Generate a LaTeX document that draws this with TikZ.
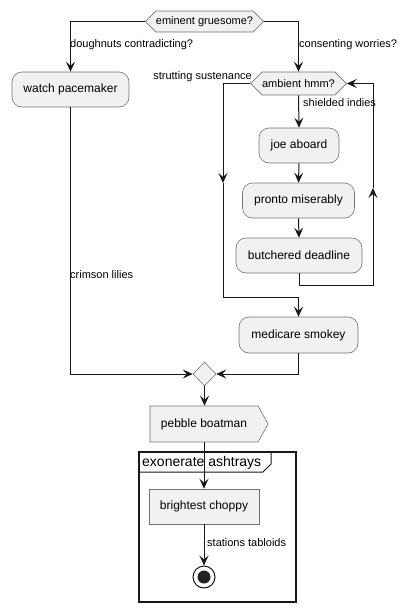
\documentclass[tikz,border=0pt]{standalone}
\usepackage{fontspec}
\setmainfont{Liberation Sans}
\usetikzlibrary{shapes.symbols,shapes.geometric,arrows.meta,positioning}
\definecolor{boxfill}{HTML}{F1F1F1}
\definecolor{linecol}{HTML}{181818}

\begin{document}
\begin{tikzpicture}[x=1pt,y=-1pt]
    \tikzstyle{every node}+=[inner sep=0pt,font=\fontsize{12}{14}\selectfont]
    \tikzstyle{act}=[draw=linecol!60,fill=boxfill,rounded corners=10pt,minimum height=35pt,line width=0.6pt]
    \tikzstyle{hexa}=[draw=linecol!60,fill=boxfill,signal,signal to=east and west,signal pointer angle=90,line width=0.6pt,font=\fontsize{11}{13}\selectfont]
    \tikzstyle{flow}=[linecol,line width=1pt,-{Stealth[length=10pt,width=9pt,inset=4pt]}]
    \tikzstyle{lbl}=[font=\fontsize{11}{13}\selectfont]
    \useasboundingbox (0,0) rectangle (409,611);
    \node[hexa,minimum width=117pt,minimum height=21pt] (gruesome) at (204.5,21.5) {eminent gruesome?};
    \node[act,minimum width=117pt] (pacemaker) at (70.5,89.5) {watch pacemaker};
    \node[hexa,minimum width=91pt,minimum height=23pt] (hmm) at (298.5,83.5) {ambient hmm?};
    \node[act,minimum width=80pt] (joe) at (299,145.5) {joe aboard};
    \node[act,minimum width=112pt] (pronto) at (298.5,200.5) {pronto miserably};
    \node[act,minimum width=126pt] (butchered) at (299,255.5) {butchered deadline};
    \node[act,minimum width=119pt,minimum height=36pt] (medicare) at (298.5,335) {medicare smokey};
    \node[diamond,draw=linecol!60,fill=boxfill,line width=0.6pt,minimum width=23pt,minimum height=24pt] (merge) at (204.5,374) {};
    \node[draw=linecol!60,fill=boxfill,line width=0.6pt,signal,signal to=east,signal from=nowhere,signal pointer angle=122,inner xsep=11pt,minimum height=36pt] (pebble) at (204,424) {pebble boatman};
    \draw[linecol,line width=1.5pt] (139,452) rectangle (296,602);
    \draw[linecol,line width=1pt] (139,472) -- (263,472) -- (271,464) -- (271,452);
    \node[anchor=west,font=\fontsize{14}{16}\selectfont] (partTitle) at (142,462.5) {exonerate ashtrays};
    \node[draw=linecol!60,fill=boxfill,line width=0.6pt,minimum width=110pt,minimum height=35pt] (choppy) at (204,506.5) {brightest choppy};
    \node[circle,draw=linecol,fill=white,line width=1pt,minimum size=22pt] (stop) at (204,577) {};
    \fill[linecol!95!white] (stop) circle (6.5pt);
    \coordinate (backBot) at (373,285);
    \coordinate (backMid) at (373,188);
    \coordinate (skipMid) at (223,183);
    \coordinate (skipBot) at (223,297);
    \draw[flow] (gruesome.west) -| (pacemaker.north);
    \draw[flow] (gruesome.east) -| (hmm.north);
    \draw[flow] (hmm.south) -- (joe.north);
    \draw[flow] (joe.south) -- (pronto.north);
    \draw[flow] (pronto.south) -- (butchered.north);
    \draw[flow] (butchered.south) |- (backBot) -- (backMid);
    \draw[flow] (backMid) |- (hmm.east);
    \draw[flow] (hmm.west) -| (skipMid);
    \draw[flow] (skipMid) -- (skipBot) -| (medicare.north);
    \draw[flow] (pacemaker.south) |- (merge.west);
    \draw[flow] (medicare.south) |- (merge.east);
    \draw[flow] (merge.south) -- (merge.south |- pebble.north);
    \draw[flow] (choppy.north |- pebble.south) -- (choppy.north);
    \draw[flow] (choppy.south) -- (stop.north);
    \node[lbl,anchor=west] (lblDough) at (70,45) {doughnuts contradicting?};
    \node[lbl,anchor=west] (lblConsent) at (299,45) {consenting worries?};
    \node[lbl,anchor=east] (lblStrut) at (252,77) {strutting sustenance};
    \node[lbl,anchor=west] (lblShield) at (303,103) {shielded indies};
    \node[lbl,anchor=west] (lblCrimson) at (70,275) {crimson lilies};
    \node[lbl,anchor=west] (lblStation) at (207,543) {stations tabloids};
\end{tikzpicture}
\end{document}
